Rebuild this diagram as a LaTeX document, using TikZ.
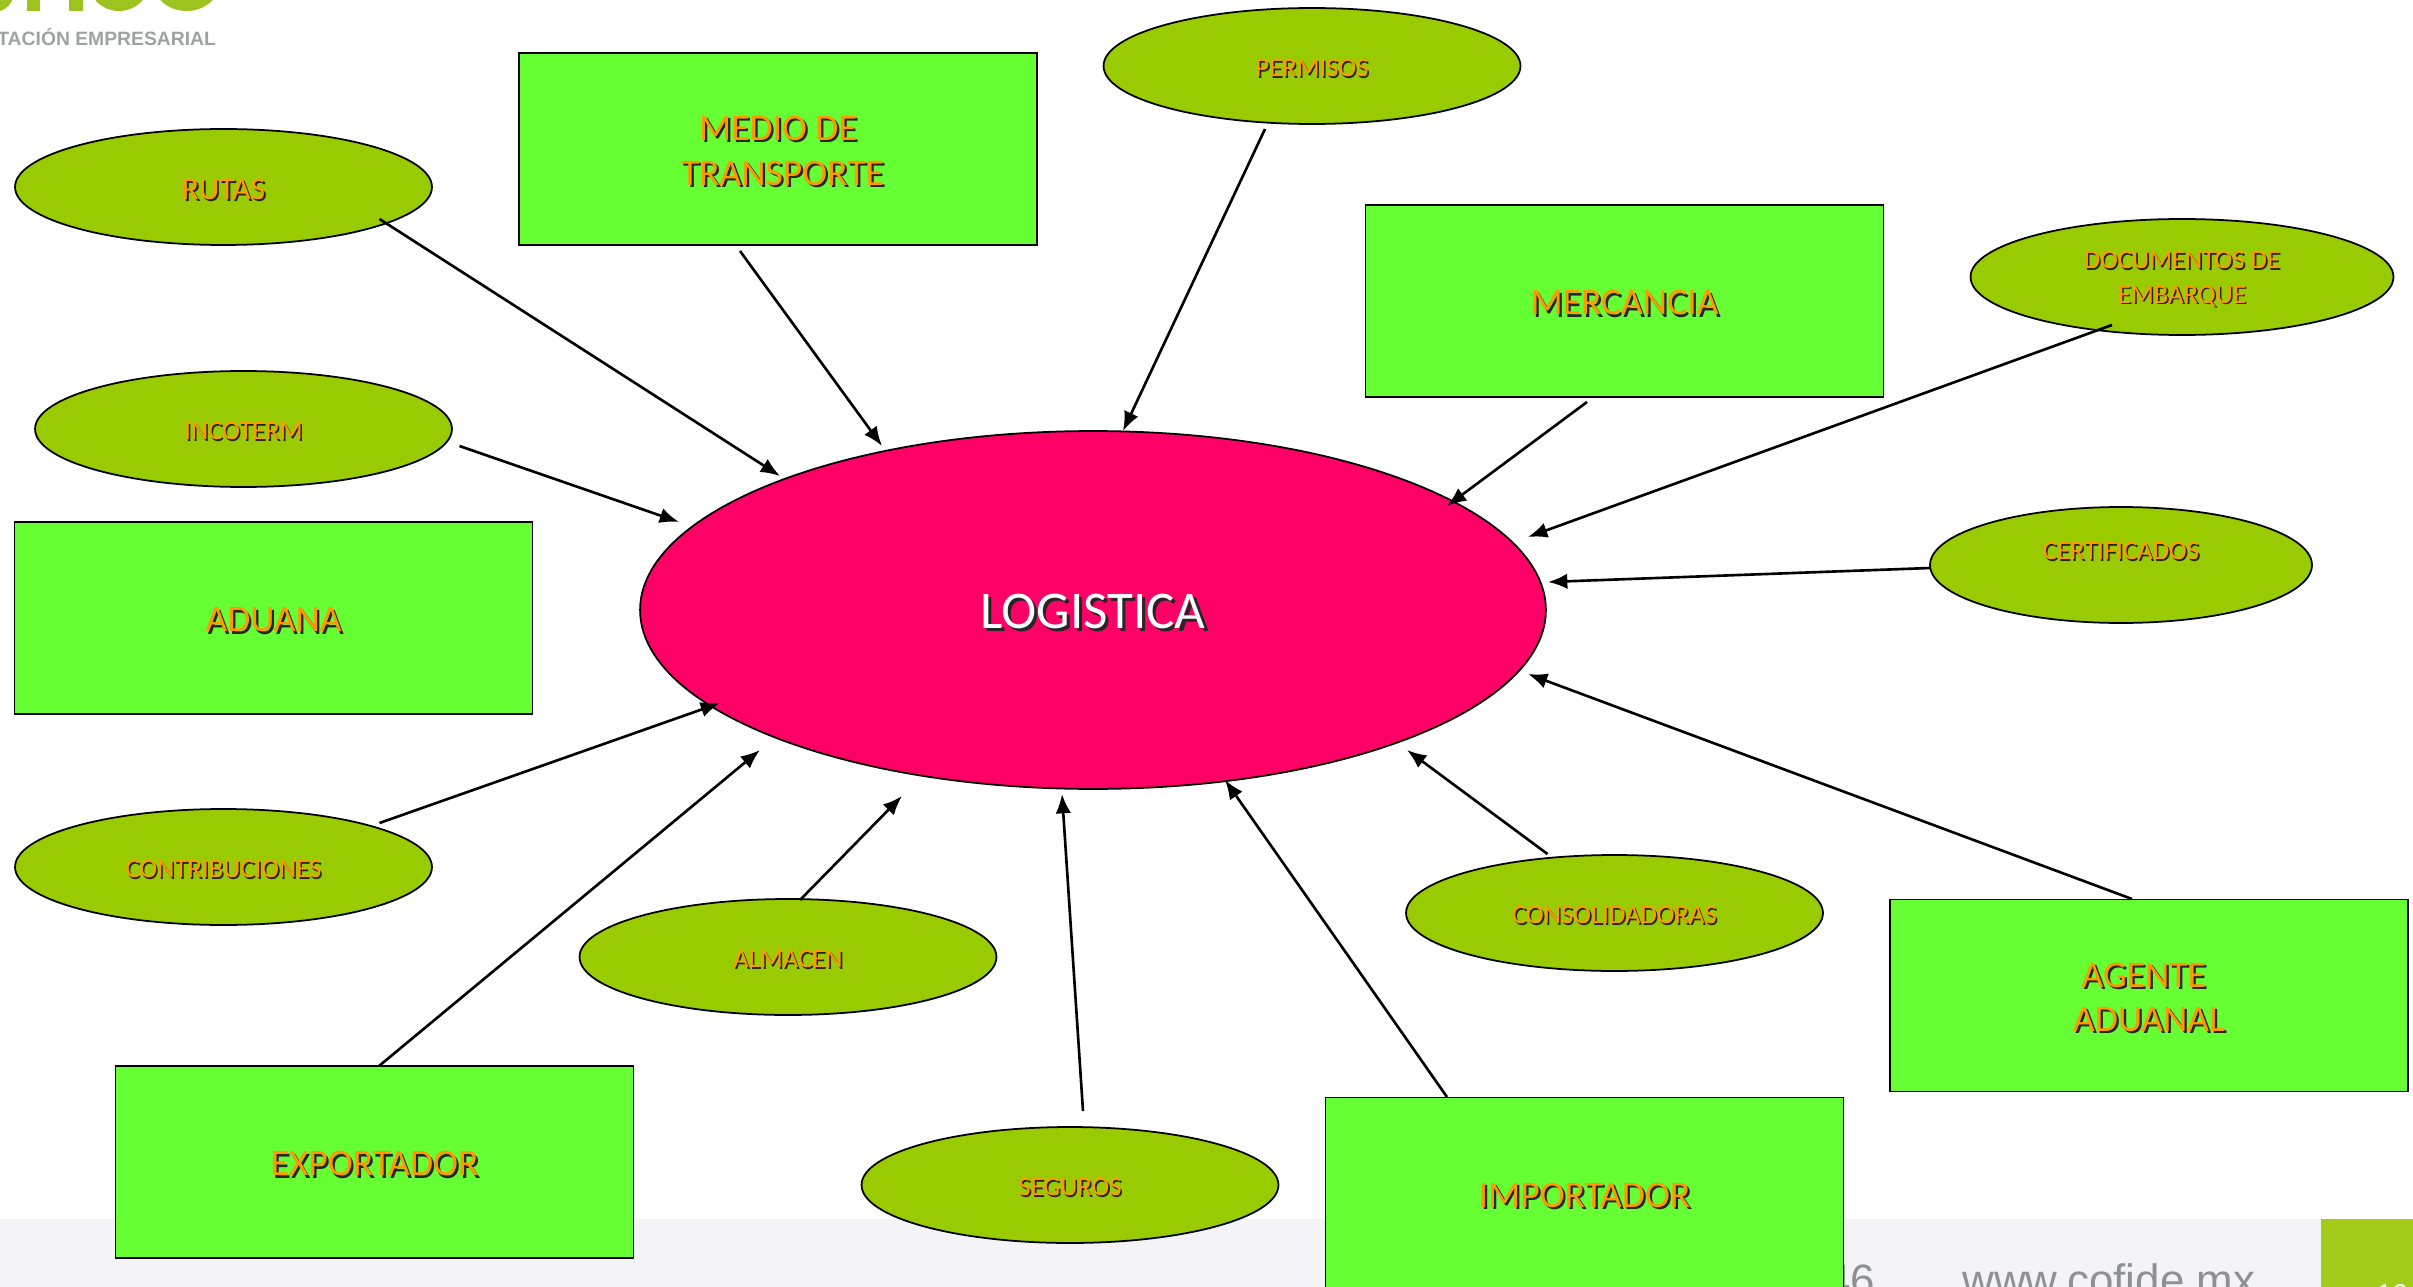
\documentclass[tikz,border=0pt]{standalone}
\usepackage{fontspec}
\setmainfont{Carlito}
\newfontfamily\footfont{Liberation Sans}
\usetikzlibrary{arrows.meta}
\usetikzlibrary{shapes}
\definecolor{rosa}{HTML}{FF0066}
\definecolor{olivo}{HTML}{99CC00}
\definecolor{lima}{HTML}{66FF33}
\definecolor{naranja}{HTML}{FF9900}
\definecolor{banda}{HTML}{F4F3F8}
\definecolor{marca}{HTML}{A2CB1A}
\definecolor{logo}{HTML}{9DC41E}
\definecolor{letra}{HTML}{8E9092}
\newcommand{\sombra}[2]{\leavevmode\rule{0pt}{\dimexpr.644em+3.4pt\relax}\rlap{\kern.06em\raisebox{-.06em}{\color{black!85}#2}}{\color{#1}#2}}
\begin{document}
\begin{tikzpicture}[x=0.02cm,y=-0.02cm]
\tikzset{
  base/.style={draw=black, line width=1pt, align=center, inner sep=0pt},
  caja/.style={base, rectangle, fill=lima, minimum width=10.36cm, minimum height=3.84cm, font=\fontsize{21.4}{25.3}\selectfont},
  elli/.style={base, ellipse, fill=olivo, minimum width=8.34cm, minimum height=2.32cm, font=\fontsize{15.2}{18.3}\selectfont},
  pie/.style={text=letra, inner sep=0pt, anchor=base west, font=\footfont\fontsize{25}{26}\selectfont},
  line/.style={draw, line width=1.5pt, -{Latex[length=11pt,width=8.8pt]}}
}
\clip (0,0) rectangle (2413,1287);
\useasboundingbox (0,0) rectangle (2413,1287);
% ------------------------------------------------- 
\fill [banda] (0,1219) rectangle (2321,1287);
\fill [marca] (2321,1219) rectangle (2413,1287);
\fill [logo] (-6,-8) circle [radius=20];
\fill [logo] (27,-5) rectangle (40,11);
\fill [logo] (69,-5) rectangle (83,11);
\fill [logo] (119,-17) ellipse [x radius=30, y radius=28];
\fill [logo] (186.5,-17) ellipse [x radius=33, y radius=28];
\node [pie, text=letra!85!white, font=\footfont\bfseries\fontsize{11}{12}\selectfont] (lema) at (-3,46) {TACIÓN EMPRESARIAL};
\node [pie] (fecha) at (1826,1295) {46};
\node [pie] (web) at (1962,1295) {www.cofide.mx};
\node [pie, text=white, font=\footfont\fontsize{16.3}{17}\selectfont] (num) at (2376,1304) {10};
% ------------------------------------------------- 
\node [base, ellipse, fill=rosa, minimum width=18.12cm, minimum height=7.16cm, font=\fontsize{30.2}{31}\selectfont] (logistica) at (1093,610) {\sombra{white}{LOGISTICA}};
\node [elli, font=\fontsize{18}{19}\selectfont] (rutas) at (223.5,187) {\sombra{naranja}{RUTAS}};
\node [elli] (incoterm) at (243.5,429) {\sombra{naranja}{INCOTERM}};
\node [elli] (permisos) at (1312,66) {\sombra{naranja}{PERMISOS}};
\node [elli, minimum width=8.46cm, font=\fontsize{15.2}{19.4}\selectfont] (docs) at (2182,277) {\sombra{naranja}{DOCUMENTOS DE}\\\sombra{naranja}{EMBARQUE}};
\node [elli, minimum width=7.64cm] (cert) at (2121,565) {\raisebox{3.1pt}[0pt][0pt]{\sombra{naranja}{CERTIFICADOS}}};
\node [elli] (contrib) at (223.5,867) {\sombra{naranja}{CONTRIBUCIONES}};
\node [elli] (almacen) at (788,957) {\sombra{naranja}{ALMACEN}};
\node [elli] (seguros) at (1070,1185) {\sombra{naranja}{SEGUROS}};
\node [elli] (consol) at (1614.5,913) {\sombra{naranja}{CONSOLIDADORAS}};
\node [caja] (medio) at (778,149) {\sombra{naranja}{MEDIO DE}\\\hspace*{5pt}\sombra{naranja}{TRANSPORTE}};
\node [caja] (mercancia) at (1624.5,301) {\sombra{naranja}{MERCANCIA}};
\node [caja] (aduana) at (273.5,618) {\sombra{naranja}{ADUANA}};
\node [caja] (agente) at (2149,995.5) {\sombra{naranja}{AGENTE}\hspace*{6pt}\\\sombra{naranja}{ADUANAL}};
\node [caja] (exportador) at (374.5,1162) {\sombra{naranja}{EXPORTADOR}};
\node [caja] (importador) at (1584.5,1193.5) {\sombra{naranja}{IMPORTADOR}};
% ------------------------------------------------- 
\path [line] ([shift={(156,32)}]rutas.center) -- ([shift={(-313,-134)}]logistica.center);
\path [line] ([shift={(-38,102)}]medio.center) -- ([shift={(-211,-164)}]logistica.center);
\path [line] ([shift={(-47,63)}]permisos.center) -- ([shift={(30,-179)}]logistica.center);
\path [line] ([shift={(-37.5,101)}]mercancia.center) -- ([shift={(354,-104)}]logistica.center);
\path [line] ([shift={(-70,48)}]docs.center) -- ([shift={(435,-73)}]logistica.center);
\path [line] ([shift={(-191,3)}]cert.center) -- ([shift={(455,-28)}]logistica.center);
\path [line] ([shift={(-17,-96.5)}]agente.center) -- ([shift={(435,64)}]logistica.center);
\path [line] ([shift={(-67,-59)}]consol.center) -- ([shift={(314,140)}]logistica.center);
\path [line] ([shift={(-137.5,-96.5)}]importador.center) -- ([shift={(132,170)}]logistica.center);
\path [line] ([shift={(13,-74)}]seguros.center) -- ([shift={(-31,184)}]logistica.center);
\path [line] ([shift={(12,-57)}]almacen.center) -- ([shift={(-191,186)}]logistica.center);
\path [line] ([shift={(4.5,-96)}]exportador.center) -- ([shift={(-333,140)}]logistica.center);
\path [line] ([shift={(156,-44)}]contrib.center) -- ([shift={(-373,93)}]logistica.center);
\path [line] ([shift={(216,17)}]incoterm.center) -- ([shift={(-414,-88)}]logistica.center);
\end{tikzpicture}
\end{document}
